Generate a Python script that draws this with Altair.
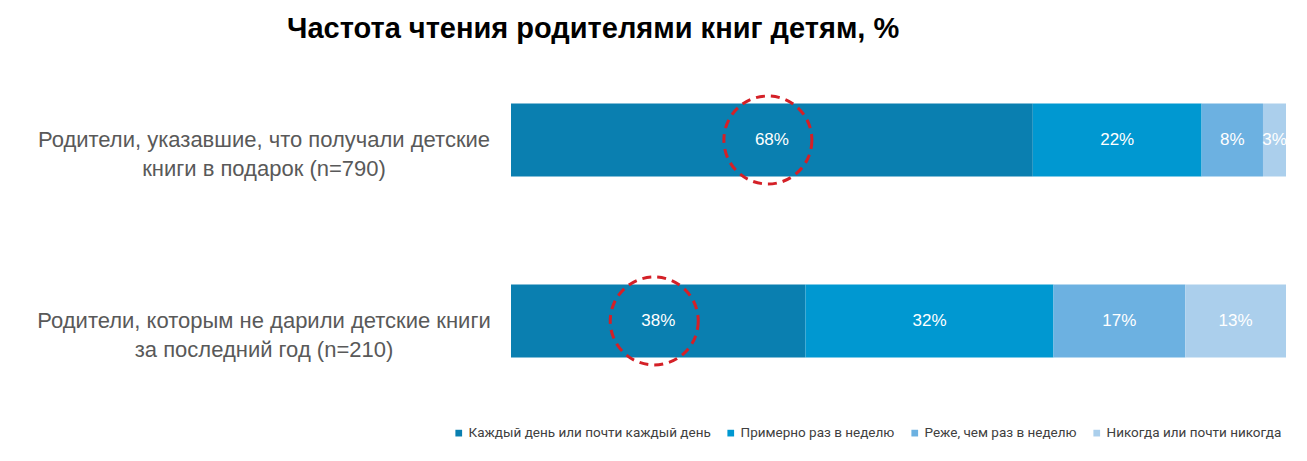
import altair as alt
import pandas as pd

group_keys = ["gift", "nogift"]
group_lines = [
    ["Родители, указавшие, что получали детские", "книги в подарок (n=790)"],
    ["Родители, которым не дарили детские книги", "за последний год (n=210)"],
]
categories = [
    "Каждый день или почти каждый день",
    "Примерно раз в неделю",
    "Реже, чем раз в неделю",
    "Никогда или почти никогда",
]
values_gift = [68, 22, 8, 3]
values_nogift = [38, 32, 17, 13]
colors = ["#0A7FB0", "#0098D1", "#6CB1E1", "#ABCFEC"]

rows = []
for g, vals in zip(group_keys, [values_gift, values_nogift]):
    for i, (c, v) in enumerate(zip(categories, vals)):
        rows.append({"group": g, "cat": c, "order": i, "value": v, "label": f"{v}%"})
df = pd.DataFrame(rows)
labels_df = pd.DataFrame({"group": group_keys, "lines": group_lines})

y_enc = alt.Y(
    "group:N",
    sort=group_keys,
    axis=None,
    scale=alt.Scale(paddingInner=0.597, paddingOuter=0.296),
)

base = alt.Chart(df).transform_stack(
    stack="value",
    as_=["x0", "x1"],
    groupby=["group"],
    sort=[alt.SortField("order")],
    offset="normalize",
).transform_calculate(mid="(datum.x0 + datum.x1) / 2")

xs = alt.Scale(domain=[0, 1], nice=False, zero=True)

bars = base.mark_bar(size=73).encode(
    x=alt.X("x0:Q", scale=xs, axis=None),
    x2="x1:Q",
    y=y_enc,
    color=alt.Color(
        "cat:N",
        scale=alt.Scale(domain=categories, range=colors),
        legend=alt.Legend(
            title=None,
            orient="none",
            direction="horizontal",
            legendX=-59,
            legendY=376,
            symbolType="square",
            symbolSize=45,
            symbolStrokeWidth=0,
            labelFont="Roboto",
            labelFontSize=13.5,
            labelColor="#404040",
            columnPadding=13,
            symbolOffset=0,
            labelOffset=3,
            labelLimit=400,
        ),
    ),
    order=alt.Order("order:Q"),
)

texts = base.mark_text(
    color="white", fontSize=17, font="Liberation Sans", baseline="middle", align="center"
).encode(
    x=alt.X("mid:Q", scale=xs),
    y=y_enc,
    text="label:N",
)

circles = base.transform_filter("datum.order == 0").mark_point(
    shape="circle",
    size=7744,
    filled=False,
    opacity=1,
    stroke="#D42027",
    strokeWidth=3,
    strokeDash=[9, 6],
    xOffset=-4,
).encode(
    x=alt.X("mid:Q", scale=xs),
    y=y_enc,
)

group_labels = alt.Chart(labels_df).mark_text(
    align="center",
    baseline="middle",
    fontSize=22,
    lineHeight=29,
    font="Liberation Sans",
    color="#595959",
).encode(
    x=alt.value(-247),
    y=y_enc,
    text="lines",
)

chart = alt.layer(bars, texts, circles, group_labels).properties(
    width=775,
    height=361,
    padding={"left": 511, "top": 50, "right": 21, "bottom": 50},
    autosize=alt.AutoSizeParams(type="none"),
    title=alt.TitleParams(
        "Частота чтения родителями книг детям, %",
        anchor="start",
        frame="group",
        dx=-224,
        offset=6,
        fontSize=29,
        font="Liberation Sans",
        fontWeight="bold",
        color="#000000",
    ),
).configure_view(stroke=None)

chart.save("out.html", embed_options={"renderer": "svg", "actions": False})
